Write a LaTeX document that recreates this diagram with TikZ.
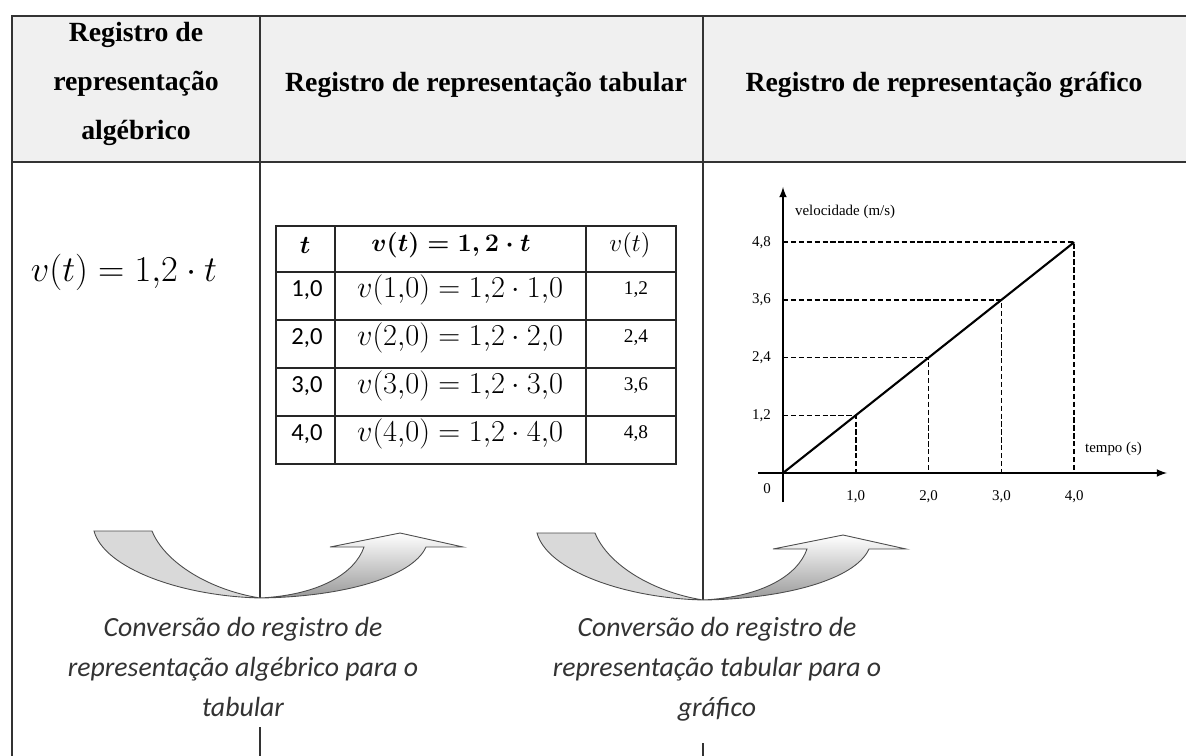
\documentclass[tikz,border=0pt]{standalone}
\usepackage{amsmath}
\usepackage{fontspec}
\setmainfont{Liberation Serif}
\newfontfamily\capfont{Carlito}
\tikzset{
	head/.style = {font=\bfseries\fontsize{15.8}{27.8}\selectfont, align=center},
	cell/.style = {font=\fontsize{16}{18}\selectfont},
	headcell/.style = {font=\fontsize{14.5}{17}\selectfont},
	smallcell/.style = {font=\fontsize{11}{13}\selectfont},
	axislabel/.style = {font=\fontsize{8.5}{10}\selectfont, inner sep=1pt},
	caption/.style = {font=\capfont\itshape\fontsize{15.8}{22.7}\selectfont, align=center, text=black!80},
	frame/.style = {draw=black!80, line width=1.1pt},
	tabline/.style = {draw=black!85, line width=0.9pt},
	guide/.style = {dashed, line width=0.9pt, dash pattern=on 3pt off 1.5pt},
	convarrow/.pic = {
		\draw[black!70, fill=black!15, line width=0.5pt] (-166,-67) -- (-108,-67)
			.. controls (-95,-35) and (-50,-8) .. (0,0)
			.. controls (-80,-2) and (-156,-30) .. (-166,-67) -- cycle;
		\draw[black!70, top color=white, bottom color=black!40, line width=0.5pt] (0,0)
			.. controls (60,-3) and (95,-25) .. (104,-51)
			-- (70,-51) -- (140,-65) -- (203,-51) -- (166,-51)
			.. controls (152,-20) and (80,-1) .. (0,0) -- cycle;
	},
}

\begin{document}
\begin{tikzpicture}[x=0.02cm, y=-0.02cm]
				\useasboundingbox (0,0) rectangle (1186,756);
				% frame of the chart
				\fill[black!6] (12,16) rectangle (1186,162);
				\draw[frame] (1186,16) -- (12,16) -- (12,756);
				\draw[frame] (12,162) -- (1186,162);
				\draw[frame] (260,16) -- (260,598);
				\draw[frame] (260,727) -- (260,756);
				\draw[frame] (703,16) -- (703,600);
				\draw[frame] (703,743) -- (703,756);
				\node[head] (h1) at (136,84) {Registro de\\representação\\algébrico};
				\node[head] (h2) at (486,85) {Registro de representação tabular};
				\node[head] (h3) at (944,85) {Registro de representação gráfico};
				% algebraic
				\node[font=\fontsize{21}{23}\selectfont] (alg) at (124,272) {$v(t) = 1{,}2\cdot t$};
				% table
				\draw[tabline] (276,226) rectangle (676,464);
				\foreach \y in {272,320,368,416} {
					\draw[tabline] (276,\y) -- (676,\y);
				}
				\foreach \x in {335,586} {
					\draw[tabline] (\x,226) -- (\x,464);
				}
				\node[headcell] (t0) at (305,245) {$\boldsymbol{t}$};
				\node[headcell] (f0) at (451,245) {$\boldsymbol{v(t) = 1,2\cdot t}$};
				\node[headcell] (v0) at (630,245) {$v(t)$};
				\foreach \t/\v [count=\i] in {1/{1,2},2/{2,4},3/{3,6},4/{4,8}} {
					\node[cell, font=\capfont\fontsize{14}{16}\selectfont] (t\i) at (307,242+48*\i) {\t,0};
					\node[cell] (f\i) at (460,242+48*\i) {$v(\t{,}0) = 1{,}2\cdot \t{,}0$};
					\node[smallcell] (v\i) at (636,242+48*\i) {\v};
				}
				% graph
				\coordinate (O) at (783,473);
				\draw[-latex, line width=1pt] (783,502) -- (783,187);
				\draw[-latex, line width=1pt] (758,473) -- (1167,473);
				\foreach \k/\v in {1/{1,2},2/{2,4},3/{3,6},4/{4,8}} {
					\coordinate (p\k) at ({783+72.8*\k},{473-57.7*\k});
					\draw[guide] (783,{473-57.7*\k}) -- (p\k) -- ({783+72.8*\k},473);
					\node[axislabel] (x\k) at ({783+72.8*\k},497) {\k,0};
					\node[axislabel, anchor=east] (y\k) at (773,{473-57.7*\k}) {\v};
				}
				\draw[line width=1.2pt] (O) -- (p4);
				\node[axislabel] (zero) at (767,489) {0};
				\node[axislabel, anchor=west] (vel) at (793,212) {velocidade (m/s)};
				\node[axislabel, anchor=west] (tempo) at (1083,449) {tempo (s)};
				% conversions
				\pic at (260,598) {convarrow};
				\pic at (703,600) {convarrow};
				\node[caption] (c1) at (243,667) {Conversão do registro de\\representação algébrico para o\\tabular};
				\node[caption] (c2) at (717,669) {Conversão do registro de\\representação tabular para o\\gráfico};
\end{tikzpicture}
\end{document}
